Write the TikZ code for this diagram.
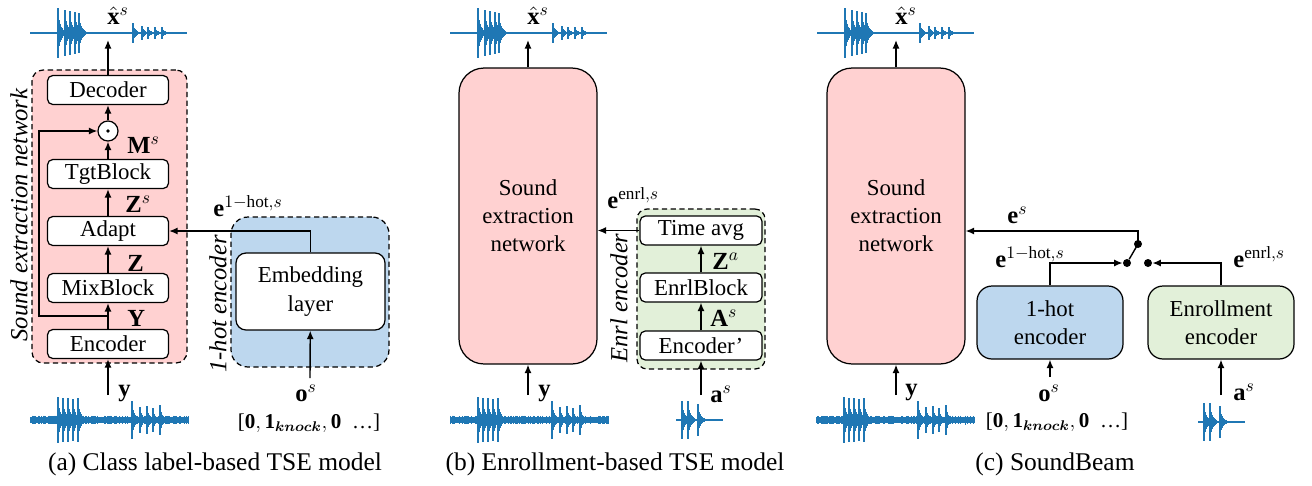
\documentclass[tikz,border=0pt]{standalone}
\usepackage{amsmath,amssymb}
\usepackage{fontspec}
\setmainfont{Liberation Serif}
\usepackage{tikz}
\usetikzlibrary{arrows.meta, positioning, calc}

\definecolor{netpink}{HTML}{FFD1D1}
\definecolor{hotblue}{HTML}{BDD7EE}
\definecolor{enrlgreen}{HTML}{E2F0D9}
\definecolor{wavec}{HTML}{1F77B4}

% one knock: a decaying spike
\newcommand{\knock}[3]{%
  \draw[wavec, line width=0.6pt] (#1,#2-#3) -- (#1,#2+#3);
  \foreach \k in {1,...,8}{%
    \pgfmathsetmacro{\kamp}{0.7*#3*exp(-0.33*\k)}%
    \draw[wavec, line width=0.55pt] (#1+\k,#2-\kamp) -- (#1+\k,#2+\kamp);
  }}

% clean target signal
\newcommand{\cleanwave}[2]{%
  \draw[wavec, line width=0.6pt] (#1,#2) -- (#1+157,#2);
  \knock{#1+28}{#2}{25}\knock{#1+35}{#2}{23}\knock{#1+40}{#2}{22}\knock{#1+45}{#2}{21}\knock{#1+49}{#2}{20}
  \knock{#1+103}{#2}{10}\knock{#1+112}{#2}{7}\knock{#1+118}{#2}{6}\knock{#1+125}{#2}{6}\knock{#1+132}{#2}{6}}

% noisy mixture
\newcommand{\mixwave}[2]{%
  \draw[wavec, line width=3pt] (#1,#2) -- (#1+158,#2);
  \foreach \i in {0,...,158}{%
    \pgfmathsetmacro{\namp}{2.5+2*rnd}%
    \draw[wavec, line width=0.5pt] (#1+\i,#2-\namp) -- (#1+\i,#2+\namp);}
  \knock{#1+28}{#2}{23}\knock{#1+33}{#2}{22}\knock{#1+38}{#2}{22}\knock{#1+43}{#2}{21}\knock{#1+48}{#2}{22}
  \knock{#1+102}{#2}{19}\knock{#1+110}{#2}{13}\knock{#1+117}{#2}{14}\knock{#1+123}{#2}{12}\knock{#1+130}{#2}{15}}

% enrollment clip
\newcommand{\enrlwave}[2]{%
  \draw[wavec, line width=0.6pt] (#1,#2) -- (#1+47,#2);
  \knock{#1+6}{#2}{19}\knock{#1+12}{#2}{19}\knock{#1+22}{#2}{16}}

\begin{document}
\begin{tikzpicture}[x=0.02cm, y=-0.02cm,
    block/.style={draw, line width=0.7pt, rounded corners=3pt, fill=white, minimum width=2.42cm, minimum height=0.58cm, inner sep=0pt, font=\fontsize{13}{16}\selectfont},
    netbox/.style={draw, line width=0.7pt, rounded corners=0.5cm, fill=netpink, minimum width=2.76cm, minimum height=5.92cm, align=center, font=\fontsize{13}{16}\selectfont},
    dashbox/.style={draw, line width=0.7pt, dash pattern=on 3pt off 2pt},
    encbox/.style={draw, line width=0.7pt, rounded corners=0.3cm, minimum width=2.92cm, minimum height=1.46cm, align=center, font=\fontsize{13}{16}\selectfont},
    arrow/.style={line width=0.8pt, -{Latex[length=1.7mm,width=1.4mm]}},
    lbl/.style={inner sep=0pt, anchor=west, font=\fontsize{14}{16}\selectfont},
    vec/.style={inner sep=0pt, font=\fontsize{12}{14}\selectfont},
    sidetext/.style={rotate=90, inner sep=0pt, font=\fontsize{14}{16}\selectfont\itshape},
    captext/.style={inner sep=0pt, font=\fontsize{14.5}{17}\selectfont},
    swdot/.style={circle, fill, inner sep=0pt, minimum size=0.16cm}
]
\useasboundingbox (0,0) rectangle (1312,485);
\pgfmathsetseed{3}

% (a) class label-based TSE
\node[dashbox, fill=netpink, rounded corners=0.22cm, minimum width=3.1cm, minimum height=5.86cm] (senA) at (109.5,216.5) {};
\node[dashbox, fill=hotblue, rounded corners=0.34cm, minimum width=3.16cm, minimum height=3cm] (hotA) at (310,292) {};
\node[block] (decA) at (108,90) {Decoder};
\node[draw, circle, line width=0.7pt, fill=white, minimum size=0.4cm, inner sep=0pt] (mulA) at (108,131) {};
\fill (mulA) circle (1.1pt);
\node[block] (tgtA) at (108,174) {TgtBlock};
\node[block] (adaA) at (108,231) {Adapt};
\node[block] (mixA) at (108,288) {MixBlock};
\node[block] (encA) at (108,344) {Encoder};
\node[block, rounded corners=0.2cm, minimum width=2.98cm, minimum height=1.54cm, align=center] (embA) at (310.5,291.5) {Embedding\\layer};
\node[sidetext] (senlblA) at (19,215) {Sound extraction network};
\node[sidetext] (hotlblA) at (218,304) {1-hot encoder};

\cleanwave{30}{33}
\mixwave{30}{420}
\coordinate (outA) at (108,40);
\coordinate (inA) at (108,395);
\coordinate (osA) at (310,378);

\draw[arrow] (decA) -- (outA);
\draw[arrow] (mulA) -- (decA);
\draw[arrow] (tgtA) -- (mulA);
\draw[arrow] (adaA) -- (tgtA);
\draw[arrow] (mixA) -- (adaA);
\draw[arrow] (encA) -- (mixA);
\draw[arrow] ($(encA.north)!0.5!(mixA.south)$) -| (39,131) -- (mulA.west);
\draw[arrow] (inA) -- (encA);
\draw[arrow] (embA.north) |- (adaA.east);
\draw[arrow] (osA) -- (embA);

\node[lbl] (xhatA) at (107,16) {$\hat{\mathbf{x}}^s$};
\node[lbl] (mA) at (127,145) {$\mathbf{M}^s$};
\node[lbl] (zsA) at (125,204) {$\mathbf{Z}^s$};
\node[lbl] (zA) at (127,263) {$\mathbf{Z}$};
\node[lbl] (yyA) at (127,318) {$\mathbf{Y}$};
\node[lbl] (yA) at (118,393) {$\mathbf{y}$};
\node[lbl] (ehotA) at (213,206) {$\mathbf{e}^{1-\mathrm{hot},s}$};
\node[inner sep=0pt, font=\fontsize{14}{16}\selectfont] (oA) at (306,393) {$\mathbf{o}^s$};
\node[vec] (vecA) at (309,423) {[$\mathbf{0},\mathbf{1}_{\boldsymbol{knock}},\mathbf{0}$\ \ …]};
\node[captext] (capA) at (215,464) {(a) Class label-based TSE model};

% (b) enrollment-based TSE
\node[netbox] (senB) at (528,216) {Sound\\extraction\\network};
\node[dashbox, fill=enrlgreen, rounded corners=0.2cm, minimum width=2.56cm, minimum height=3.2cm] (enrlB) at (701,289) {};
\node[block, minimum width=2.44cm] (tavgB) at (701,230.5) {Time avg};
\node[block, minimum width=2.44cm] (eblkB) at (701,287.5) {EnrlBlock};
\node[block, minimum width=2.44cm] (encB) at (701,345.5) {Encoder’};
\node[sidetext] (enrllblB) at (619,298) {Enrl encoder};

\cleanwave{450}{33}
\mixwave{450}{420}
\enrlwave{676}{420}
\coordinate (outB) at (528,40);
\coordinate (inB) at (528,395);
\coordinate (asB) at (701,395);

\draw[arrow] (senB) -- (outB);
\draw[arrow] (inB) -- (senB);
\draw[arrow] (asB) -- (encB);
\draw[arrow] (encB) -- (eblkB);
\draw[arrow] (eblkB) -- (tavgB);
\draw[arrow] (tavgB.west) -- (tavgB.west -| senB.east);

\node[lbl] (xhatB) at (527,16) {$\hat{\mathbf{x}}^s$};
\node[lbl] (eenrlB) at (607,198) {$\mathbf{e}^{\mathrm{enrl},s}$};
\node[lbl] (zaB) at (712,261) {$\mathbf{Z}^a$};
\node[lbl] (AsB) at (710,318) {$\mathbf{A}^s$};
\node[lbl] (aB) at (710,394) {$\mathbf{a}^s$};
\node[lbl] (yB) at (538,393) {$\mathbf{y}$};
\node[captext] (capB) at (615,464) {(b) Enrollment-based TSE model};

% (c) SoundBeam
\node[netbox] (senC) at (896,216) {Sound\\extraction\\network};
\node[encbox, fill=hotblue] (hotC) at (1050,322.5) {1-hot\\encoder};
\node[encbox, fill=enrlgreen] (enrlC) at (1221,322.5) {Enrollment\\encoder};
\node[swdot] (swT) at (1138,244) {};
\node[swdot] (swL) at (1127,263) {};
\node[swdot] (swR) at (1148,263) {};

\cleanwave{817}{33}
\mixwave{816}{420}
\enrlwave{1198}{422}
\coordinate (outC) at (896,40);
\coordinate (inC) at (896,395);
\coordinate (osC) at (1050,377);
\coordinate (asC) at (1221,395);

\draw[arrow] (senC) -- (outC);
\draw[arrow] (inC) -- (senC);
\draw[arrow] (osC) -- (hotC);
\draw[arrow] (asC) -- (enrlC);
\draw[line width=0.8pt] (swT.center) -- ($(swT.center)!0.8!(swL.center)$);
\draw[arrow] (swT.center) |- ($(senC.east)+(0,15)$);
\draw[arrow] (hotC.north) |- (swL.west);
\draw[arrow] (enrlC.north) |- (swR.east);

\node[lbl] (xhatC) at (895,16) {$\hat{\mathbf{x}}^s$};
\node[lbl] (esC) at (1007,215) {$\mathbf{e}^s$};
\node[lbl] (ehotC) at (995,257) {$\mathbf{e}^{1-\mathrm{hot},s}$};
\node[lbl] (eenrlC) at (1233,257) {$\mathbf{e}^{\mathrm{enrl},s}$};
\node[inner sep=0pt, font=\fontsize{14}{16}\selectfont] (oC) at (1049,393) {$\mathbf{o}^s$};
\node[vec] (vecC) at (1057,422) {[$\mathbf{0},\mathbf{1}_{\boldsymbol{knock}},\mathbf{0}$\ \ …]};
\node[lbl] (aC) at (1233,392) {$\mathbf{a}^s$};
\node[lbl] (yC) at (905,392) {$\mathbf{y}$};
\node[captext] (capC) at (1055,464) {(c) SoundBeam};

\end{tikzpicture}
\end{document}
